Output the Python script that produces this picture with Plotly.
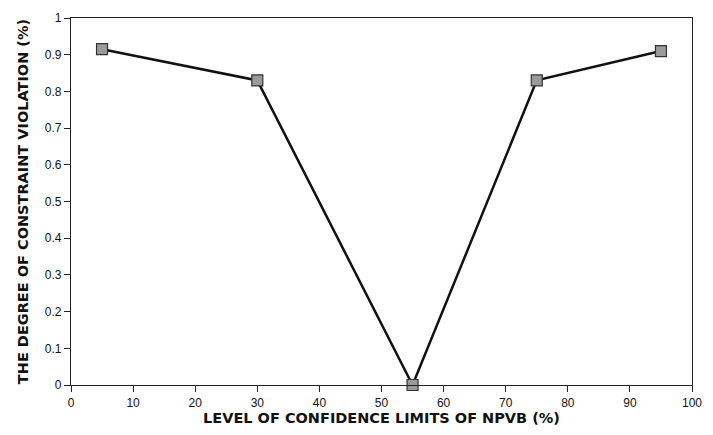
import plotly.graph_objects as go

# Confidence-limit levels and resulting constraint violation
confidence_level = [5, 30, 55, 75, 95]
violation_degree = [0.915, 0.83, 0.0, 0.83, 0.91]

x_ticks = [0, 10, 20, 30, 40, 50, 60, 70, 80, 90, 100]
y_ticks = [0, 0.1, 0.2, 0.3, 0.4, 0.5, 0.6, 0.7, 0.8, 0.9, 1]
y_tick_text = ["0", "0.1", "0.2", "0.3", "0.4", "0.5", "0.6", "0.7", "0.8", "0.9", "1"]

TITLE_FONT = dict(family="DejaVu Sans, Verdana, sans-serif", size=14.5, color="#111111")
TICK_FONT = dict(family="Liberation Sans, Arial, sans-serif", size=12, color="#111111")

fig = go.Figure()
fig.add_trace(go.Scatter(
    x=confidence_level,
    y=violation_degree,
    mode="lines+markers",
    line=dict(color="#111111", width=2.5),
    marker=dict(symbol="square", size=11, color="#9a9a9a",
                line=dict(color="#333333", width=1.2)),
    cliponaxis=False,
    showlegend=False,
))

axis_common = dict(
    showline=True, linecolor="#222222", linewidth=1.2, mirror=True,
    ticks="outside", ticklen=6, tickwidth=1, tickcolor="#222222",
    showgrid=False, zeroline=False,
    tickfont=TICK_FONT,
)

fig.update_xaxes(
    range=[0, 100], tickvals=x_ticks,
    title=dict(text="<b>LEVEL OF CONFIDENCE LIMITS OF NPVB (%)</b>",
               font=TITLE_FONT, standoff=4),
    **axis_common,
)
fig.update_yaxes(
    range=[0, 1], tickvals=y_ticks, ticktext=y_tick_text,
    title=dict(text="<b>THE DEGREE OF CONSTRAINT VIOLATION (%)</b>",
               font=TITLE_FONT, standoff=12),
    **axis_common,
)

fig.update_layout(
    width=713, height=435,
    margin=dict(l=71, r=13, t=11, b=50),
    paper_bgcolor="white", plot_bgcolor="white",
)

fig.write_html("out.html")
